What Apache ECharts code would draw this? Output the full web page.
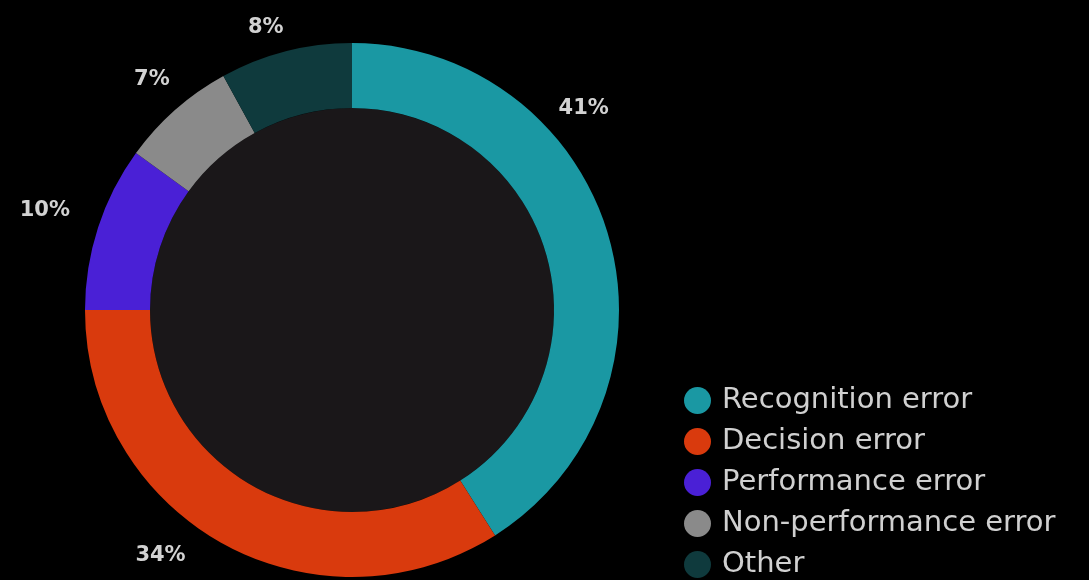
<!DOCTYPE html>
<html>
<head>
<meta charset="utf-8">
<script src="https://cdn.jsdelivr.net/npm/echarts@6/dist/echarts.min.js"></script>
<style>
html,body{margin:0;padding:0;background:#000;}
#c{width:1089px;height:580px;}
</style>
</head>
<body>
<div id="c"></div>
<script>
const categories = ["Recognition error", "Decision error", "Performance error", "Non-performance error", "Other"];
const values = [41, 34, 10, 7, 8];
const colors = ["#1a98a3", "#d93a0d", "#4a20d6", "#8a8a8a", "#0f3a3d"];

// label placement (angle in degrees clockwise from top, distance from centre)
const labelAngles = [49, 218, 288, 319, 343];
const labelDist = [307, 311, 323, 305, 295];
const cx = 352, cy = 310;

const chart = echarts.init(document.getElementById('c'));
chart.setOption({
  backgroundColor: '#000',
  animation: false,
  legend: {
    orient: 'vertical',
    left: 684,
    top: 386,
    height: 260,
    padding: 0,
    icon: 'circle',
    itemWidth: 27,
    itemHeight: 27,
    itemGap: 12,
    data: categories,
    textStyle: {
      color: '#d0d0d0',
      fontSize: 29,
      fontFamily: 'DejaVu Sans',
      lineHeight: 29,
      padding: [0, 0, 0, 6]
    }
  },
  series: [
    {
      type: 'pie',
      silent: true,
      center: [cx, cy],
      radius: [0, 202],
      label: { show: false },
      labelLine: { show: false },
      itemStyle: { color: '#1a1719' },
      data: [{ value: 1, name: '' }],
      legendHoverLink: false
    },
    {
      type: 'pie',
      center: [cx, cy],
      radius: [202, 267],
      startAngle: 90,
      clockwise: true,
      label: {
        show: true,
        position: 'outside',
        formatter: '{c}%',
        color: '#d2d2d2',
        fontSize: 21,
        fontWeight: 'bold',
        fontFamily: 'DejaVu Sans',
        overflow: 'none',
        width: 120
      },
      labelLine: { show: false },
      labelLayout: function (p) {
        const a = labelAngles[p.dataIndex] * Math.PI / 180;
        const d = labelDist[p.dataIndex];
        return {
          x: cx + d * Math.sin(a),
          y: cy - d * Math.cos(a),
          align: 'center',
          verticalAlign: 'middle'
        };
      },
      data: categories.map((n, i) => ({ name: n, value: values[i], itemStyle: { color: colors[i] } }))
    }
  ]
});
</script>
</body>
</html>
